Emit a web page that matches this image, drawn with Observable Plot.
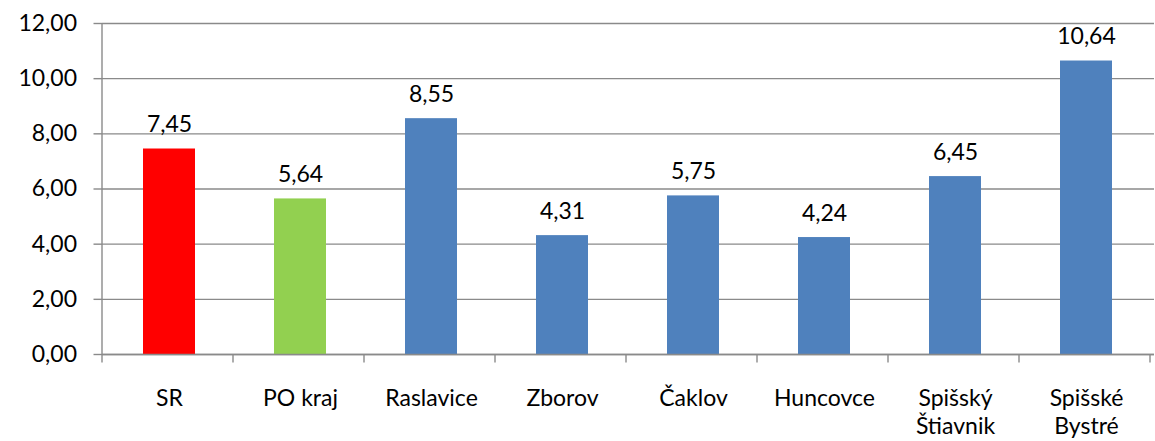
<!DOCTYPE html>
<html>
<head>
<meta charset="utf-8">
<script src="https://cdn.jsdelivr.net/npm/d3@7"></script>
<script src="https://cdn.jsdelivr.net/npm/@observablehq/plot@0.6"></script>
<style>
  html, body { margin: 0; padding: 0; background: #fff; }
  #chart svg { display: block; }
</style>
</head>
<body>
<div id="chart"></div>
<script>
const categories = ["SR", "PO kraj", "Raslavice", "Zborov", "Čaklov", "Huncovce", "Spišský\nŠtiavnik", "Spišské\nBystré"];
const values = [7.45, 5.64, 8.55, 4.31, 5.75, 4.24, 6.45, 10.64];
const colors = ["#FF0000", "#92D050", "#4F81BD", "#4F81BD", "#4F81BD", "#4F81BD", "#4F81BD", "#4F81BD"];
const yTicks = [0, 2, 4, 6, 8, 10, 12];

const data = categories.map((c, i) => ({cat: c, value: values[i], color: colors[i]}));
const fmt = d => d.toFixed(2).replace(".", ",");
const gray = "#8a8a8a";

// left axis line and band-boundary tick marks, computed from the scales
function axisLines(index, scales, values, dimensions) {
  const x = scales.x;
  const step = x(categories[1]) - x(categories[0]);
  const left = dimensions.marginLeft;
  const y0 = scales.y(0);
  const yTop = scales.y(12);
  const g = d3.create("svg:g");
  const edges = d3.range(categories.length + 1).map(i => left + i * step);
  g.append("line")
    .attr("x1", left).attr("x2", left)
    .attr("y1", yTop).attr("y2", y0)
    .attr("stroke", gray).attr("stroke-width", 1.4);
  for (const e of edges) {
    g.append("line")
      .attr("x1", e).attr("x2", e)
      .attr("y1", y0).attr("y2", y0 + 8.5)
      .attr("stroke", gray).attr("stroke-width", 1.4);
  }
  return g.node();
}

const chart = Plot.plot({
  width: 1155,
  height: 441,
  marginLeft: 102,
  marginRight: 1,
  marginTop: 23,
  marginBottom: 87,
  style: {fontFamily: "Lato, 'Open Sans', sans-serif", fontSize: "23px", color: "#000", background: "#fff"},
  x: {domain: categories, paddingInner: 0.6, paddingOuter: 0.3},
  y: {domain: [0, 12], ticks: yTicks},
  marks: [
    Plot.gridY(yTicks, {stroke: gray, strokeOpacity: 1, strokeWidth: 1.4}),
    Plot.barY(data, {x: "cat", y: "value", fill: "color"}),
    Plot.ruleY([0], {stroke: gray, strokeWidth: 1.4}),
    Plot.axisY(yTicks, {
      tickFormat: fmt, tickSize: 8.5, tickPadding: 17, stroke: gray, strokeWidth: 1.4,
      fontSize: 23, fill: "#000", label: null
    }),
    Plot.axisX({
      tickSize: 0, tickPadding: 32, fontSize: 23, fill: "#000", label: null, lineHeight: 1.22
    }),
    axisLines,
    Plot.text(data, {x: "cat", y: "value", text: d => fmt(d.value), lineAnchor: "bottom", dy: -17, fontSize: 23, fill: "#000"})
  ]
});

document.getElementById("chart").appendChild(chart);
</script>
</body>
</html>
